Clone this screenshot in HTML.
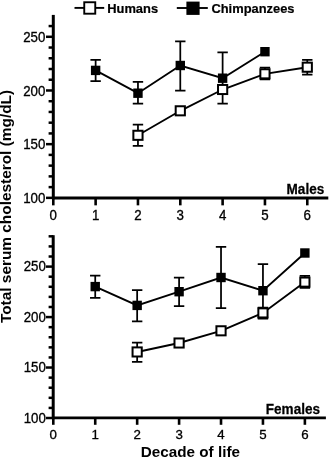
<!DOCTYPE html><html><head><meta charset="utf-8"><title>Total serum cholesterol</title><style>html,body{margin:0;padding:0;background:#fff}svg{display:block}text{font-family:"Liberation Sans", Arial, Helvetica, sans-serif;fill:#000}</style></head><body>
<svg width="331" height="458" viewBox="0 0 331 458">
<rect width="331" height="458" fill="#fff"/>
<line x1="74.5" y1="7.9" x2="104.2" y2="7.9" stroke="#000" stroke-width="1.9"/>
<rect x="84.25" y="2.25" width="11" height="11.45" fill="#fff" stroke="#000" stroke-width="1.9"/>
<text transform="translate(107.2,13.0) scale(1,1.04)" font-size="12.9" font-weight="bold" stroke="#000" stroke-width="0.2">Humans</text>
<line x1="176.8" y1="8.0" x2="207.8" y2="8.0" stroke="#000" stroke-width="1.9"/>
<rect x="186.4" y="1.6" width="13.2" height="13.3" fill="#000"/>
<text transform="translate(211.4,13.0) scale(1,1.04)" font-size="12.9" font-weight="bold" stroke="#000" stroke-width="0.2">Chimpanzees</text>
<text transform="translate(11.1,206.5) rotate(-90)" text-anchor="middle" font-size="15.4" font-weight="bold">Total serum cholesterol (mg/dL)</text>
<text x="190.4" y="456.6" text-anchor="middle" font-size="15.25" font-weight="bold">Decade of life</text>
<line x1="53.3" y1="14.9" x2="53.3" y2="199.2" stroke="#000" stroke-width="3"/>
<line x1="52.05" y1="197.95" x2="328.3" y2="197.95" stroke="#000" stroke-width="2.9"/>
<line x1="46.0" y1="197.85" x2="53.3" y2="197.85" stroke="#000" stroke-width="2.5"/>
<text transform="translate(45.3,202.95) scale(1,1.05)" text-anchor="end" font-size="13.3" stroke="#000" stroke-width="0.3">100</text>
<line x1="48.6" y1="187.11" x2="53.3" y2="187.11" stroke="#000" stroke-width="2.5"/>
<line x1="48.6" y1="176.38" x2="53.3" y2="176.38" stroke="#000" stroke-width="2.5"/>
<line x1="48.6" y1="165.64" x2="53.3" y2="165.64" stroke="#000" stroke-width="2.5"/>
<line x1="48.6" y1="154.90" x2="53.3" y2="154.90" stroke="#000" stroke-width="2.5"/>
<line x1="46.0" y1="144.16" x2="53.3" y2="144.16" stroke="#000" stroke-width="2.5"/>
<text transform="translate(45.3,149.26) scale(1,1.05)" text-anchor="end" font-size="13.3" stroke="#000" stroke-width="0.3">150</text>
<line x1="48.6" y1="133.43" x2="53.3" y2="133.43" stroke="#000" stroke-width="2.5"/>
<line x1="48.6" y1="122.69" x2="53.3" y2="122.69" stroke="#000" stroke-width="2.5"/>
<line x1="48.6" y1="111.95" x2="53.3" y2="111.95" stroke="#000" stroke-width="2.5"/>
<line x1="48.6" y1="101.22" x2="53.3" y2="101.22" stroke="#000" stroke-width="2.5"/>
<line x1="46.0" y1="90.48" x2="53.3" y2="90.48" stroke="#000" stroke-width="2.5"/>
<text transform="translate(45.3,95.58) scale(1,1.05)" text-anchor="end" font-size="13.3" stroke="#000" stroke-width="0.3">200</text>
<line x1="48.6" y1="79.74" x2="53.3" y2="79.74" stroke="#000" stroke-width="2.5"/>
<line x1="48.6" y1="69.01" x2="53.3" y2="69.01" stroke="#000" stroke-width="2.5"/>
<line x1="48.6" y1="58.27" x2="53.3" y2="58.27" stroke="#000" stroke-width="2.5"/>
<line x1="48.6" y1="47.53" x2="53.3" y2="47.53" stroke="#000" stroke-width="2.5"/>
<line x1="46.0" y1="36.79" x2="53.3" y2="36.79" stroke="#000" stroke-width="2.5"/>
<text transform="translate(45.3,41.89) scale(1,1.05)" text-anchor="end" font-size="13.3" stroke="#000" stroke-width="0.3">250</text>
<line x1="48.6" y1="26.06" x2="53.3" y2="26.06" stroke="#000" stroke-width="2.5"/>
<line x1="53.30" y1="197.95" x2="53.30" y2="205.35" stroke="#000" stroke-width="2.6"/>
<text transform="translate(53.30,219.75) scale(1,1.08)" text-anchor="middle" font-size="13.3" stroke="#000" stroke-width="0.3">0</text>
<line x1="95.63" y1="197.95" x2="95.63" y2="205.35" stroke="#000" stroke-width="2.6"/>
<text transform="translate(95.63,219.75) scale(1,1.08)" text-anchor="middle" font-size="13.3" stroke="#000" stroke-width="0.3">1</text>
<line x1="137.96" y1="197.95" x2="137.96" y2="205.35" stroke="#000" stroke-width="2.6"/>
<text transform="translate(137.96,219.75) scale(1,1.08)" text-anchor="middle" font-size="13.3" stroke="#000" stroke-width="0.3">2</text>
<line x1="180.29" y1="197.95" x2="180.29" y2="205.35" stroke="#000" stroke-width="2.6"/>
<text transform="translate(180.29,219.75) scale(1,1.08)" text-anchor="middle" font-size="13.3" stroke="#000" stroke-width="0.3">3</text>
<line x1="222.62" y1="197.95" x2="222.62" y2="205.35" stroke="#000" stroke-width="2.6"/>
<text transform="translate(222.62,219.75) scale(1,1.08)" text-anchor="middle" font-size="13.3" stroke="#000" stroke-width="0.3">4</text>
<line x1="264.95" y1="197.95" x2="264.95" y2="205.35" stroke="#000" stroke-width="2.6"/>
<text transform="translate(264.95,219.75) scale(1,1.08)" text-anchor="middle" font-size="13.3" stroke="#000" stroke-width="0.3">5</text>
<line x1="307.28" y1="197.95" x2="307.28" y2="205.35" stroke="#000" stroke-width="2.6"/>
<text transform="translate(307.28,219.75) scale(1,1.08)" text-anchor="middle" font-size="13.3" stroke="#000" stroke-width="0.3">6</text>
<text transform="translate(324.2,193.7) scale(1,1.1)" text-anchor="end" font-size="13.55" font-weight="bold" stroke="#000" stroke-width="0.25">Males</text>
<polyline points="95.63,70.40 137.96,93.20 180.29,65.50 222.62,78.20 264.95,51.70" fill="none" stroke="#000" stroke-width="1.9"/>
<path d="M95.63 59.80V81.00M90.43 59.80H100.83M90.43 81.00H100.83" stroke="#000" stroke-width="1.75" fill="none"/>
<path d="M137.96 81.90V103.60M132.76 81.90H143.16M132.76 103.60H143.16" stroke="#000" stroke-width="1.75" fill="none"/>
<path d="M180.29 41.30V90.50M175.09 41.30H185.49M175.09 90.50H185.49" stroke="#000" stroke-width="1.75" fill="none"/>
<path d="M222.62 52.25V103.50M217.42 52.25H227.82M217.42 103.50H227.82" stroke="#000" stroke-width="1.75" fill="none"/>
<rect x="90.93" y="65.70" width="9.4" height="9.4" fill="#000"/>
<rect x="133.26" y="88.50" width="9.4" height="9.4" fill="#000"/>
<rect x="175.59" y="60.80" width="9.4" height="9.4" fill="#000"/>
<rect x="217.92" y="73.50" width="9.4" height="9.4" fill="#000"/>
<rect x="260.25" y="47.00" width="9.4" height="9.4" fill="#000"/>
<polyline points="137.96,135.30 180.29,110.80 222.62,89.50 264.95,73.80 307.28,67.20" fill="none" stroke="#000" stroke-width="1.9"/>
<path d="M137.96 124.65V145.80M132.76 124.65H143.16M132.76 145.80H143.16" stroke="#000" stroke-width="1.75" fill="none"/>
<path d="M264.95 67.70V79.25M259.75 67.70H270.15M259.75 79.25H270.15" stroke="#000" stroke-width="1.75" fill="none"/>
<path d="M307.28 59.90V74.60M302.08 59.90H312.48M302.08 74.60H312.48" stroke="#000" stroke-width="1.75" fill="none"/>
<rect x="133.36" y="130.75" width="9.2" height="9.1" fill="#fff" stroke="#000" stroke-width="2"/>
<rect x="175.69" y="106.25" width="9.2" height="9.1" fill="#fff" stroke="#000" stroke-width="2"/>
<rect x="218.02" y="84.95" width="9.2" height="9.1" fill="#fff" stroke="#000" stroke-width="2"/>
<rect x="260.35" y="69.25" width="9.2" height="9.1" fill="#fff" stroke="#000" stroke-width="2"/>
<rect x="302.68" y="62.65" width="9.2" height="9.1" fill="#fff" stroke="#000" stroke-width="2"/>
<line x1="53.2" y1="235.2" x2="53.2" y2="419.15" stroke="#000" stroke-width="3"/>
<line x1="51.95" y1="417.9" x2="325.9" y2="417.9" stroke="#000" stroke-width="2.9"/>
<line x1="46.0" y1="418.00" x2="53.2" y2="418.00" stroke="#000" stroke-width="2.5"/>
<text transform="translate(45.8,422.60) scale(1,1.05)" text-anchor="end" font-size="13.3" stroke="#000" stroke-width="0.3">100</text>
<line x1="48.6" y1="407.91" x2="53.2" y2="407.91" stroke="#000" stroke-width="2.5"/>
<line x1="48.6" y1="397.81" x2="53.2" y2="397.81" stroke="#000" stroke-width="2.5"/>
<line x1="48.6" y1="387.72" x2="53.2" y2="387.72" stroke="#000" stroke-width="2.5"/>
<line x1="48.6" y1="377.63" x2="53.2" y2="377.63" stroke="#000" stroke-width="2.5"/>
<line x1="46.0" y1="367.53" x2="53.2" y2="367.53" stroke="#000" stroke-width="2.5"/>
<text transform="translate(45.8,372.13) scale(1,1.05)" text-anchor="end" font-size="13.3" stroke="#000" stroke-width="0.3">150</text>
<line x1="48.6" y1="357.44" x2="53.2" y2="357.44" stroke="#000" stroke-width="2.5"/>
<line x1="48.6" y1="347.35" x2="53.2" y2="347.35" stroke="#000" stroke-width="2.5"/>
<line x1="48.6" y1="337.26" x2="53.2" y2="337.26" stroke="#000" stroke-width="2.5"/>
<line x1="48.6" y1="327.16" x2="53.2" y2="327.16" stroke="#000" stroke-width="2.5"/>
<line x1="46.0" y1="317.07" x2="53.2" y2="317.07" stroke="#000" stroke-width="2.5"/>
<text transform="translate(45.8,321.67) scale(1,1.05)" text-anchor="end" font-size="13.3" stroke="#000" stroke-width="0.3">200</text>
<line x1="48.6" y1="306.98" x2="53.2" y2="306.98" stroke="#000" stroke-width="2.5"/>
<line x1="48.6" y1="296.88" x2="53.2" y2="296.88" stroke="#000" stroke-width="2.5"/>
<line x1="48.6" y1="286.79" x2="53.2" y2="286.79" stroke="#000" stroke-width="2.5"/>
<line x1="48.6" y1="276.70" x2="53.2" y2="276.70" stroke="#000" stroke-width="2.5"/>
<line x1="46.0" y1="266.61" x2="53.2" y2="266.61" stroke="#000" stroke-width="2.5"/>
<text transform="translate(45.8,271.21) scale(1,1.05)" text-anchor="end" font-size="13.3" stroke="#000" stroke-width="0.3">250</text>
<line x1="48.6" y1="256.51" x2="53.2" y2="256.51" stroke="#000" stroke-width="2.5"/>
<line x1="48.6" y1="246.42" x2="53.2" y2="246.42" stroke="#000" stroke-width="2.5"/>
<line x1="48.6" y1="236.33" x2="53.2" y2="236.33" stroke="#000" stroke-width="2.5"/>
<line x1="53.30" y1="417.9" x2="53.30" y2="424.79999999999995" stroke="#000" stroke-width="2.6"/>
<text transform="translate(53.30,438.60) scale(1,1.0)" text-anchor="middle" font-size="13.3" stroke="#000" stroke-width="0.3">0</text>
<line x1="95.23" y1="417.9" x2="95.23" y2="424.79999999999995" stroke="#000" stroke-width="2.6"/>
<text transform="translate(95.23,438.60) scale(1,1.0)" text-anchor="middle" font-size="13.3" stroke="#000" stroke-width="0.3">1</text>
<line x1="137.16" y1="417.9" x2="137.16" y2="424.79999999999995" stroke="#000" stroke-width="2.6"/>
<text transform="translate(137.16,438.60) scale(1,1.0)" text-anchor="middle" font-size="13.3" stroke="#000" stroke-width="0.3">2</text>
<line x1="179.09" y1="417.9" x2="179.09" y2="424.79999999999995" stroke="#000" stroke-width="2.6"/>
<text transform="translate(179.09,438.60) scale(1,1.0)" text-anchor="middle" font-size="13.3" stroke="#000" stroke-width="0.3">3</text>
<line x1="221.02" y1="417.9" x2="221.02" y2="424.79999999999995" stroke="#000" stroke-width="2.6"/>
<text transform="translate(221.02,438.60) scale(1,1.0)" text-anchor="middle" font-size="13.3" stroke="#000" stroke-width="0.3">4</text>
<line x1="262.95" y1="417.9" x2="262.95" y2="424.79999999999995" stroke="#000" stroke-width="2.6"/>
<text transform="translate(262.95,438.60) scale(1,1.0)" text-anchor="middle" font-size="13.3" stroke="#000" stroke-width="0.3">5</text>
<line x1="304.88" y1="417.9" x2="304.88" y2="424.79999999999995" stroke="#000" stroke-width="2.6"/>
<text transform="translate(304.88,438.60) scale(1,1.0)" text-anchor="middle" font-size="13.3" stroke="#000" stroke-width="0.3">6</text>
<text transform="translate(320.0,413.6) scale(1,1.1)" text-anchor="end" font-size="13.55" font-weight="bold" stroke="#000" stroke-width="0.25">Females</text>
<polyline points="95.23,286.60 137.16,305.40 179.09,291.70 221.02,277.50 262.95,290.70 304.88,253.00" fill="none" stroke="#000" stroke-width="1.9"/>
<path d="M95.23 275.60V297.80M90.03 275.60H100.43M90.03 297.80H100.43" stroke="#000" stroke-width="1.75" fill="none"/>
<path d="M137.16 290.20V321.30M131.96 290.20H142.36M131.96 321.30H142.36" stroke="#000" stroke-width="1.75" fill="none"/>
<path d="M179.09 277.60V306.00M173.89 277.60H184.29M173.89 306.00H184.29" stroke="#000" stroke-width="1.75" fill="none"/>
<path d="M221.02 246.80V308.20M215.82 246.80H226.22M215.82 308.20H226.22" stroke="#000" stroke-width="1.75" fill="none"/>
<path d="M262.95 264.00V317.40M257.75 264.00H268.15M257.75 317.40H268.15" stroke="#000" stroke-width="1.75" fill="none"/>
<rect x="90.53" y="281.90" width="9.4" height="9.4" fill="#000"/>
<rect x="132.46" y="300.70" width="9.4" height="9.4" fill="#000"/>
<rect x="174.39" y="287.00" width="9.4" height="9.4" fill="#000"/>
<rect x="216.32" y="272.80" width="9.4" height="9.4" fill="#000"/>
<rect x="258.25" y="286.00" width="9.4" height="9.4" fill="#000"/>
<rect x="300.18" y="248.30" width="9.4" height="9.4" fill="#000"/>
<polyline points="137.16,351.95 179.09,343.00 221.02,330.80 262.95,312.90 304.88,282.10" fill="none" stroke="#000" stroke-width="1.9"/>
<path d="M137.16 342.55V361.95M131.96 342.55H142.36M131.96 361.95H142.36" stroke="#000" stroke-width="1.75" fill="none"/>
<path d="M262.95 307.70V318.55M257.75 307.70H268.15M257.75 318.55H268.15" stroke="#000" stroke-width="1.75" fill="none"/>
<path d="M304.88 275.75V287.95M299.68 275.75H310.08M299.68 287.95H310.08" stroke="#000" stroke-width="1.75" fill="none"/>
<rect x="132.56" y="347.40" width="9.2" height="9.1" fill="#fff" stroke="#000" stroke-width="2"/>
<rect x="174.49" y="338.45" width="9.2" height="9.1" fill="#fff" stroke="#000" stroke-width="2"/>
<rect x="216.42" y="326.25" width="9.2" height="9.1" fill="#fff" stroke="#000" stroke-width="2"/>
<rect x="258.35" y="308.35" width="9.2" height="9.1" fill="#fff" stroke="#000" stroke-width="2"/>
<rect x="300.28" y="277.55" width="9.2" height="9.1" fill="#fff" stroke="#000" stroke-width="2"/>
</svg></body></html>
